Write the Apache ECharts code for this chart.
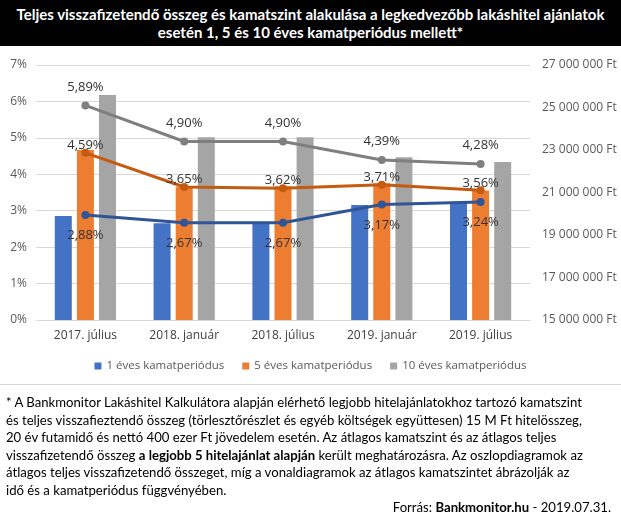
<!DOCTYPE html>
<html>
<head>
<meta charset="utf-8">
<script src="https://cdn.jsdelivr.net/npm/echarts@6/dist/echarts.min.js"></script>
<style>
html,body{margin:0;padding:0;background:#fff;}
#wrap{position:relative;width:621px;height:517px;overflow:hidden;}
#chart{position:absolute;left:0;top:0;width:621px;height:517px;}
#title{position:absolute;left:0;top:0;width:621px;height:46px;background:#000;color:#fff;
  font-family:Lato,"Liberation Sans",sans-serif;font-weight:bold;font-size:15px;line-height:18px;
  text-align:center;padding-top:5px;box-sizing:border-box;white-space:nowrap;}
#sep{position:absolute;left:0;top:384px;width:621px;height:1px;background:#d9d9d9;}
#note{position:absolute;left:6px;top:394px;width:615px;font-family:Lato,"Liberation Sans",sans-serif;
  font-size:13.15px;line-height:17.6px;color:#000;white-space:nowrap;}
#src{position:absolute;right:10px;top:499px;font-family:Lato,"Liberation Sans",sans-serif;font-size:13.15px;color:#000;white-space:nowrap;}
</style>
</head>
<body>
<div id="wrap">
<div id="chart"></div>
<div id="title">Teljes visszafizetendő összeg és kamatszint alakulása a legkedvezőbb lakáshitel ajánlatok<br>esetén 1, 5 és 10 éves kamatperiódus mellett*</div>
<div id="sep"></div>
<div id="note">* A Bankmonitor Lakáshitel Kalkulátora alapján elérhető legjobb hitelajánlatokhoz tartozó kamatszint<br>és teljes visszafieztendő összeg (törlesztőrészlet és egyéb költségek együttesen) 15 M Ft hitelösszeg,<br>20 év futamidő és nettó 400 ezer Ft jövedelem esetén. Az átlagos kamatszint és az átlagos teljes<br>visszafizetendő összeg <b>a legjobb 5 hitelajánlat alapján</b> került meghatározásra. Az oszlopdiagramok az<br>átlagos teljes visszafizetendő összeget, míg a vonaldiagramok az átlagos kamatszintet ábrázolják az<br>idő és a kamatperiódus függvényében.</div>
<div id="src">Forrás: <b>Bankmonitor.hu</b> - 2019.07.31.</div>
</div>
<script>
var categories = ['2017. július', '2018. január', '2018. július', '2019. január', '2019. július'];
var seriesNames = ['1 éves kamatperiódus', '5 éves kamatperiódus', '10 éves kamatperiódus'];
// total repayable amount (Ft) - bars, right axis
var total1 = [19900000, 19550000, 19550000, 20410000, 20520000];
var total5 = [23000000, 21270000, 21300000, 21430000, 21090000];
var total10 = [25590000, 23600000, 23600000, 22660000, 22440000];
// interest rate (%) - lines, left axis
var rate1 = [2.88, 2.67, 2.67, 3.17, 3.24];
var rate5 = [4.59, 3.65, 3.62, 3.71, 3.56];
var rate10 = [5.89, 4.90, 4.90, 4.39, 4.28];
// axis ticks
var pctMin = 0, pctMax = 7, pctStep = 1;
var ftMin = 15000000, ftMax = 27000000, ftStep = 2000000;

var barColors = ['#4472C4', '#ED7D31', '#A5A5A5'];
var lineColors = ['#2F5597', '#C55A11', '#7F7F7F'];
var FONT = '"Open Sans", sans-serif';

function fmtFt(v) {
  return String(Math.round(v)).replace(/\B(?=(\d{3})+(?!\d))/g, ' ') + ' Ft';
}
function fmtPct(v) {
  return v.toFixed(2).replace('.', ',') + '%';
}

var chart = echarts.init(document.getElementById('chart'), null, {renderer: 'canvas'});

function barSeries(i, data) {
  return {
    name: seriesNames[i], type: 'bar', yAxisIndex: 1, data: data,
    barWidth: 17, barGap: '30%',
    itemStyle: {color: barColors[i]}, z: 2
  };
}
function lineSeries(i, data, pos, offset) {
  return {
    name: 'kamat ' + seriesNames[i], type: 'line', yAxisIndex: 0, data: data,
    symbol: 'circle', symbolSize: 8,
    lineStyle: {color: lineColors[i], width: 3},
    itemStyle: {color: lineColors[i]},
    label: {
      show: true, position: pos, offset: offset, distance: 0,
      formatter: function (p) { return fmtPct(p.value); },
      color: '#333333', fontFamily: FONT, fontSize: 13
    },
    z: 5
  };
}

chart.setOption({
  animation: false,
  backgroundColor: '#fff',
  textStyle: {fontFamily: FONT},
  grid: {left: 36, right: 91, top: 65, bottom: 197, containLabel: false},
  legend: {
    data: seriesNames, top: 355, left: 'center',
    itemWidth: 7, itemHeight: 7, itemGap: 18, icon: 'rect',
    textStyle: {color: '#595959', fontSize: 11.5, fontFamily: FONT}
  },
  xAxis: {
    type: 'category', data: categories,
    axisLine: {lineStyle: {color: '#d9d9d9'}},
    axisTick: {show: false},
    axisLabel: {color: '#404040', fontSize: 12, fontFamily: FONT, margin: 10}
  },
  yAxis: [
    {
      type: 'value', min: pctMin, max: pctMax, interval: pctStep,
      axisLabel: {formatter: '{value}%', color: '#595959', fontSize: 12, fontFamily: FONT, margin: 9},
      axisLine: {show: false}, axisTick: {show: false},
      splitLine: {lineStyle: {color: '#d9d9d9'}}
    },
    {
      type: 'value', min: ftMin, max: ftMax, interval: ftStep,
      axisLabel: {formatter: fmtFt, color: '#595959', fontSize: 12, fontFamily: FONT, margin: 12},
      axisLine: {show: false}, axisTick: {show: false},
      splitLine: {show: false}
    }
  ],
  series: [
    barSeries(0, total1),
    barSeries(1, total5),
    barSeries(2, total10),
    lineSeries(0, rate1, 'bottom', [0, 10]),
    lineSeries(1, rate5, 'top', [0, 3]),
    lineSeries(2, rate10, 'top', [0, -8])
  ]
});
</script>
</body>
</html>
